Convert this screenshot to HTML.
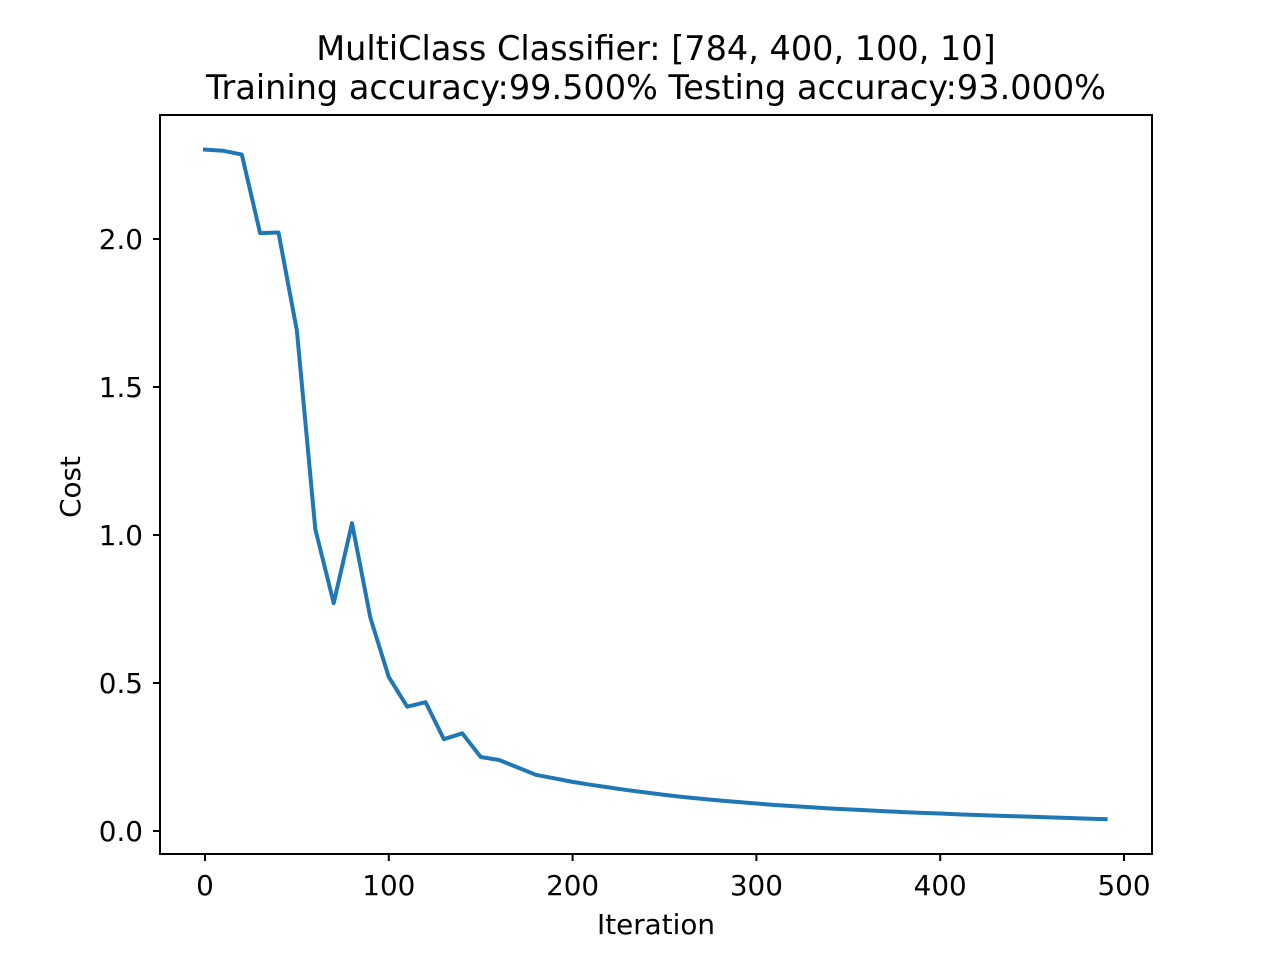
<!DOCTYPE html>
<html><head><meta charset="utf-8"><style>
body{margin:0;background:#fff}
svg{display:block;font-family:"DejaVu Sans","Liberation Sans",sans-serif}
</style></head><body>
<svg id="chart" width="1280" height="960" xmlns="http://www.w3.org/2000/svg">
<rect width="1280" height="960" fill="#fff"/>
<text x="656" y="60" font-size="33.5" text-anchor="middle">MultiClass Classifier: [784, 400, 100, 10]</text>
<text x="656" y="99" font-size="33.5" text-anchor="middle">Training accuracy:99.500% Testing accuracy:93.000%</text>
<g id="ticks"></g>
<path id="line" fill="none" stroke="#1f77b4" stroke-width="4" stroke-linejoin="round" stroke-linecap="square"/>
<rect x="160" y="115" width="992" height="739" fill="none" stroke="#000" stroke-width="2"/>
<text x="656" y="934" font-size="27.8" text-anchor="middle">Iteration</text>
<text transform="translate(80,487) rotate(-90)" font-size="27.8" text-anchor="middle">Cost</text>
</svg>
<script>
const iterations = [0,10,20,30,40,50,60,70,80,90,100,110,120,130,140,150,160,170,180,190,200,210,220,230,240,250,260,270,280,290,300,310,320,330,340,350,360,370,380,390,400,410,420,430,440,450,460,470,480,490];
const costs = [2.302,2.298,2.285,2.02,2.022,1.69,1.02,0.77,1.04,0.72,0.52,0.42,0.435,0.31,0.33,0.25,0.24,0.215,0.19,0.178,0.166,0.156,0.147,0.138,0.130,0.122,0.115,0.109,0.103,0.098,0.093,0.088,0.084,0.080,0.076,0.073,0.070,0.067,0.064,0.061,0.059,0.056,0.054,0.052,0.050,0.048,0.046,0.044,0.042,0.040];
const xTicks = [0,100,200,300,400,500];
const yTicks = [0.0,0.5,1.0,1.5,2.0];
const yTickLabels = ["0.0","0.5","1.0","1.5","2.0"];
const NS="http://www.w3.org/2000/svg";
function sx(v){return 205+v*1.838;}
function sy(v){return 831-v*296;}
const line=document.getElementById('line');
line.setAttribute('d',iterations.map((x,i)=>(i?'L':'M')+sx(x).toFixed(1)+','+sy(costs[i]).toFixed(1)).join(''));
const g=document.getElementById('ticks');
xTicks.forEach(t=>{
 const l=document.createElementNS(NS,'line');
 
 
 l.setAttribute('x1',sx(t));l.setAttribute('x2',sx(t));l.setAttribute('y1',854);l.setAttribute('y2',861);l.setAttribute('stroke','#000');l.setAttribute('stroke-width','2');
 g.appendChild(l);
 const tx=document.createElementNS(NS,'text');
 
 
 tx.setAttribute('x',sx(t));tx.setAttribute('y',895);tx.setAttribute('font-size','27.8');tx.setAttribute('text-anchor','middle');
 tx.textContent=String(t);g.appendChild(tx);
});
yTicks.forEach((t,i)=>{
 const l=document.createElementNS(NS,'line');
 
 
 l.setAttribute('x1',153);l.setAttribute('x2',160);l.setAttribute('y1',sy(t));l.setAttribute('y2',sy(t));l.setAttribute('stroke','#000');l.setAttribute('stroke-width','2');
 g.appendChild(l);
 const tx=document.createElementNS(NS,'text');
 
 
 tx.setAttribute('x',143);tx.setAttribute('y',sy(t)+10);tx.setAttribute('font-size','27.8');tx.setAttribute('text-anchor','end');
 tx.textContent=yTickLabels[i];g.appendChild(tx);
});
</script>
</body></html>
